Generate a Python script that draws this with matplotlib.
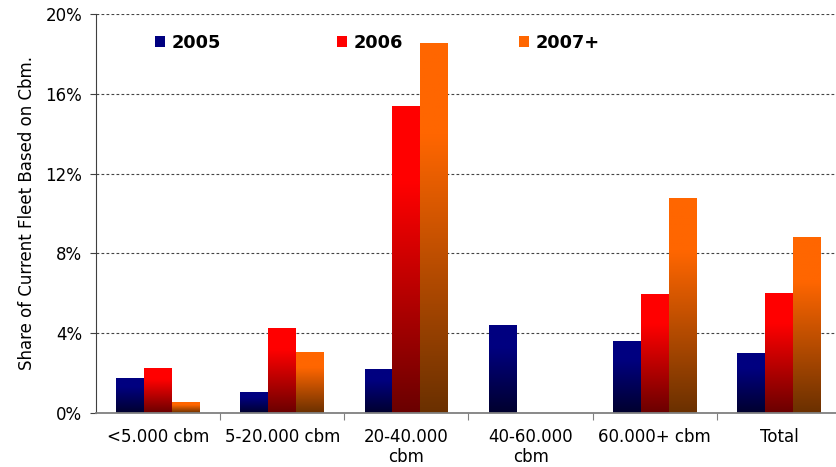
import numpy as np
import matplotlib
matplotlib.use("Agg")
import matplotlib.pyplot as plt
from matplotlib.colors import LinearSegmentedColormap
from matplotlib.patches import Rectangle
from matplotlib.ticker import FuncFormatter

plt.rcParams["font.family"] = ["DejaVu Sans"]

categories = ["<5.000 cbm", "5-20.000 cbm", "20-40.000\ncbm", "40-60.000\ncbm", "60.000+ cbm", "Total"]
series = ["2005", "2006", "2007+"]
share_2005 = [1.75, 1.05, 2.2, 4.4, 3.6, 3.0]
share_2006 = [2.25, 4.25, 15.4, 0.0, 5.95, 6.0]
share_2007 = [0.55, 3.05, 18.55, 0.0, 10.8, 8.8]

# (bottom colour, top colour) for each series
shades = [("#00002e", "#000080"), ("#6a0000", "#ff0000"), ("#6a3000", "#ff6600")]

fig = plt.figure(figsize=(8.37, 4.67), dpi=100)
ax = fig.add_axes([96 / 837, 54 / 467, 745 / 837, 399 / 467])

x = np.arange(len(categories)) + 0.5
w = 0.225
grad = np.linspace(0, 1, 256).reshape(-1, 1)

for i, (name, vals) in enumerate(zip(series, [share_2005, share_2006, share_2007])):
    lo, hi = shades[i]
    cmap = LinearSegmentedColormap.from_list(name, [(0, lo), (0.75, hi), (1, hi)])
    bars = ax.bar(x + (i - 1) * w, vals, width=w, facecolor="none", edgecolor="none")
    for b in bars:
        h = b.get_height()
        if h <= 0:
            continue
        im = ax.imshow(grad, cmap=cmap, origin="lower", aspect="auto",
                       extent=[b.get_x(), b.get_x() + b.get_width(), 0, h], zorder=2)
        im.set_clip_path(b)

ax.set_xlim(0, len(categories))
ax.set_ylim(0, 20)
ax.set_yticks([0, 4, 8, 12, 16, 20])
ax.yaxis.set_major_formatter(FuncFormatter(lambda v, p: f"{v:.0f}%"))
ax.grid(axis="y", color="#444444", linestyle=(0, (2.5, 2)), linewidth=0.8, zorder=0)
ax.set_axisbelow(True)

ax.set_xticks(np.arange(1, len(categories)))
ax.set_xticklabels([])
ax.set_xticks(x, minor=True)
ax.set_xticklabels(categories, minor=True, fontsize=12, linespacing=1.1)
ax.tick_params(axis="x", which="minor", length=0, pad=11)
ax.tick_params(axis="x", which="major", length=5, color="#808080")
ax.tick_params(axis="y", labelsize=12, length=4, color="#404040", pad=6)

for s in ["top", "right"]:
    ax.spines[s].set_visible(False)
ax.spines["left"].set_color("#404040")
ax.spines["bottom"].set_color("#808080")
ax.spines["bottom"].set_linewidth(1.3)

ax.set_ylabel("Share of Current Fleet Based on Cbm.", fontsize=12, labelpad=7)

handles = [Rectangle((0, 0), 1, 1, facecolor=hi, edgecolor="none") for lo, hi in shades]
leg = ax.legend(handles, series, ncol=3, loc="upper left", bbox_to_anchor=(0.058, 0.99),
                frameon=False, prop={"weight": "bold", "size": 12.8},
                handlelength=0.55, handleheight=0.55, handletextpad=0.4, columnspacing=6.5)

fig.savefig("out.png", dpi=100)
